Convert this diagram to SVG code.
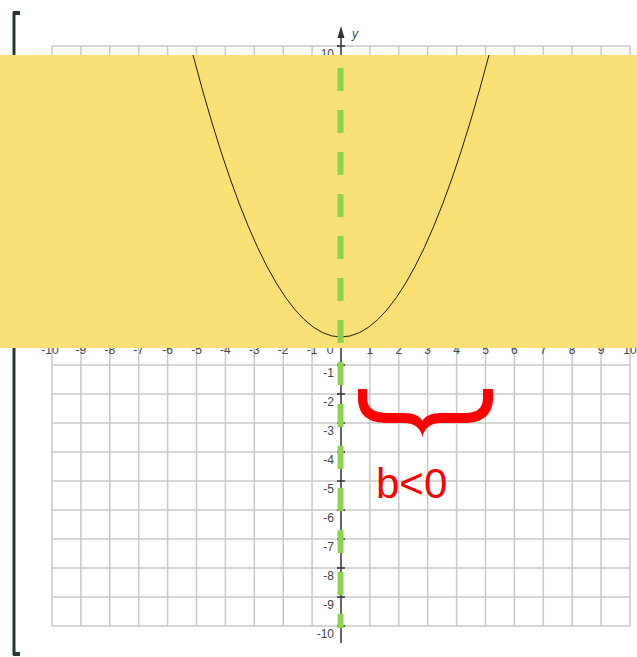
<svg xmlns="http://www.w3.org/2000/svg" width="637" height="657" viewBox="0 0 637 657">
<style>
.grid{stroke:#c9c9c9;stroke-width:1.5;fill:none}
.ax{stroke:#333;stroke-width:1.5;fill:none}
.lbl{font-family:"Liberation Sans",Arial,sans-serif;font-size:12px;fill:#444}
.xl{text-anchor:middle}
.yl{text-anchor:end}
</style>
<rect x="0" y="0" width="637" height="657" fill="#ffffff"/>
<g id="bracket">
<path d="M14,12 V655" stroke="#263535" stroke-width="3" fill="none"/>
<rect x="13" y="11" width="7" height="4" fill="#263535"/>
<rect x="13" y="652" width="7" height="4" fill="#263535"/>
</g>
<g id="grid">
<path class="grid" d="M52,46V626M80.9,46V626M109.8,46V626M138.7,46V626M167.6,46V626M196.5,46V626M225.4,46V626M254.3,46V626M283.2,46V626M312.1,46V626M369.9,46V626M398.8,46V626M427.7,46V626M456.6,46V626M485.5,46V626M514.4,46V626M543.3,46V626M572.2,46V626M601.1,46V626M630,46V626"/>
<path class="grid" d="M52,46H630M52,75H630M52,104H630M52,133H630M52,162H630M52,191H630M52,220H630M52,249H630M52,278H630M52,307H630M52,336H630M52,365H630M52,394H630M52,423H630M52,452H630M52,481H630M52,510H630M52,539H630M52,568H630M52,597H630M52,626H630"/>
</g>
<g id="axes">
<path class="ax" d="M341,34V643"/>
<path d="M341,26 L337.5,38 L344.5,38 Z" fill="#333"/>
<path class="ax" d="M337,46H345M337,75H345M337,104H345M337,133H345M337,162H345M337,191H345M337,220H345M337,249H345M337,278H345M337,307H345M337,365H345M337,394H345M337,423H345M337,452H345M337,481H345M337,510H345M337,539H345M337,568H345M337,597H345M337,626H345"/>
<text class="lbl" x="352" y="38" font-style="italic">y</text>
<g class="lbl yl">
<text x="334" y="58">10</text>
<text x="334" y="87">9</text>
<text x="334" y="116">8</text>
<text x="334" y="377">-1</text>
<text x="334" y="406">-2</text>
<text x="334" y="435">-3</text>
<text x="334" y="464">-4</text>
<text x="334" y="493">-5</text>
<text x="334" y="522">-6</text>
<text x="334" y="551">-7</text>
<text x="334" y="580">-8</text>
<text x="334" y="609">-9</text>
<text x="334" y="638">-10</text>
</g>
<g class="lbl xl">
<text x="50" y="354">-10</text>
<text x="80.9" y="354">-9</text>
<text x="109.8" y="354">-8</text>
<text x="138.7" y="354">-7</text>
<text x="167.6" y="354">-6</text>
<text x="196.5" y="354">-5</text>
<text x="225.4" y="354">-4</text>
<text x="254.3" y="354">-3</text>
<text x="283.2" y="354">-2</text>
<text x="312.1" y="354">-1</text>
<text x="330" y="354">0</text>
<text x="369.9" y="354">1</text>
<text x="398.8" y="354">2</text>
<text x="427.7" y="354">3</text>
<text x="456.6" y="354">4</text>
<text x="485.5" y="354">5</text>
<text x="514.4" y="354">6</text>
<text x="543.3" y="354">7</text>
<text x="572.2" y="354">8</text>
<text x="601.1" y="354">9</text>
<text x="630" y="354">10</text>
</g>
</g>
<g id="band">
<rect x="0" y="55" width="637" height="293" fill="#FBE076"/>
</g>
<g id="parabola">
<path d="M193,55 Q341,619 489,55" fill="none" stroke="#1a1a1a" stroke-width="1"/>
</g>
<g id="connectors">
<path d="M340.5,68V628" stroke="#8CD44E" stroke-width="6" stroke-dasharray="23 19" fill="none"/>
</g>
<g id="brace">
<path d="M358,389 L367,389 L367,398 C367,408 374,413 388,413 L404,413 C414,413 420,416 422.5,421 C425,416 431,413 441,413 L465,413 C477,413 483,408 483,398 L483,389 L493,389 L493,398 C493,415 482,423 465,423 L441,423 C430,423 424,429 422.5,437 C421,429 415,423 404,423 L388,423 C368,423 358,415 358,398 Z" fill="#FF0000"/>
<text x="376" y="498" font-family="'Liberation Sans',Arial,sans-serif" font-size="42" fill="#FF0000">b&lt;0</text>
</g>
</svg>
